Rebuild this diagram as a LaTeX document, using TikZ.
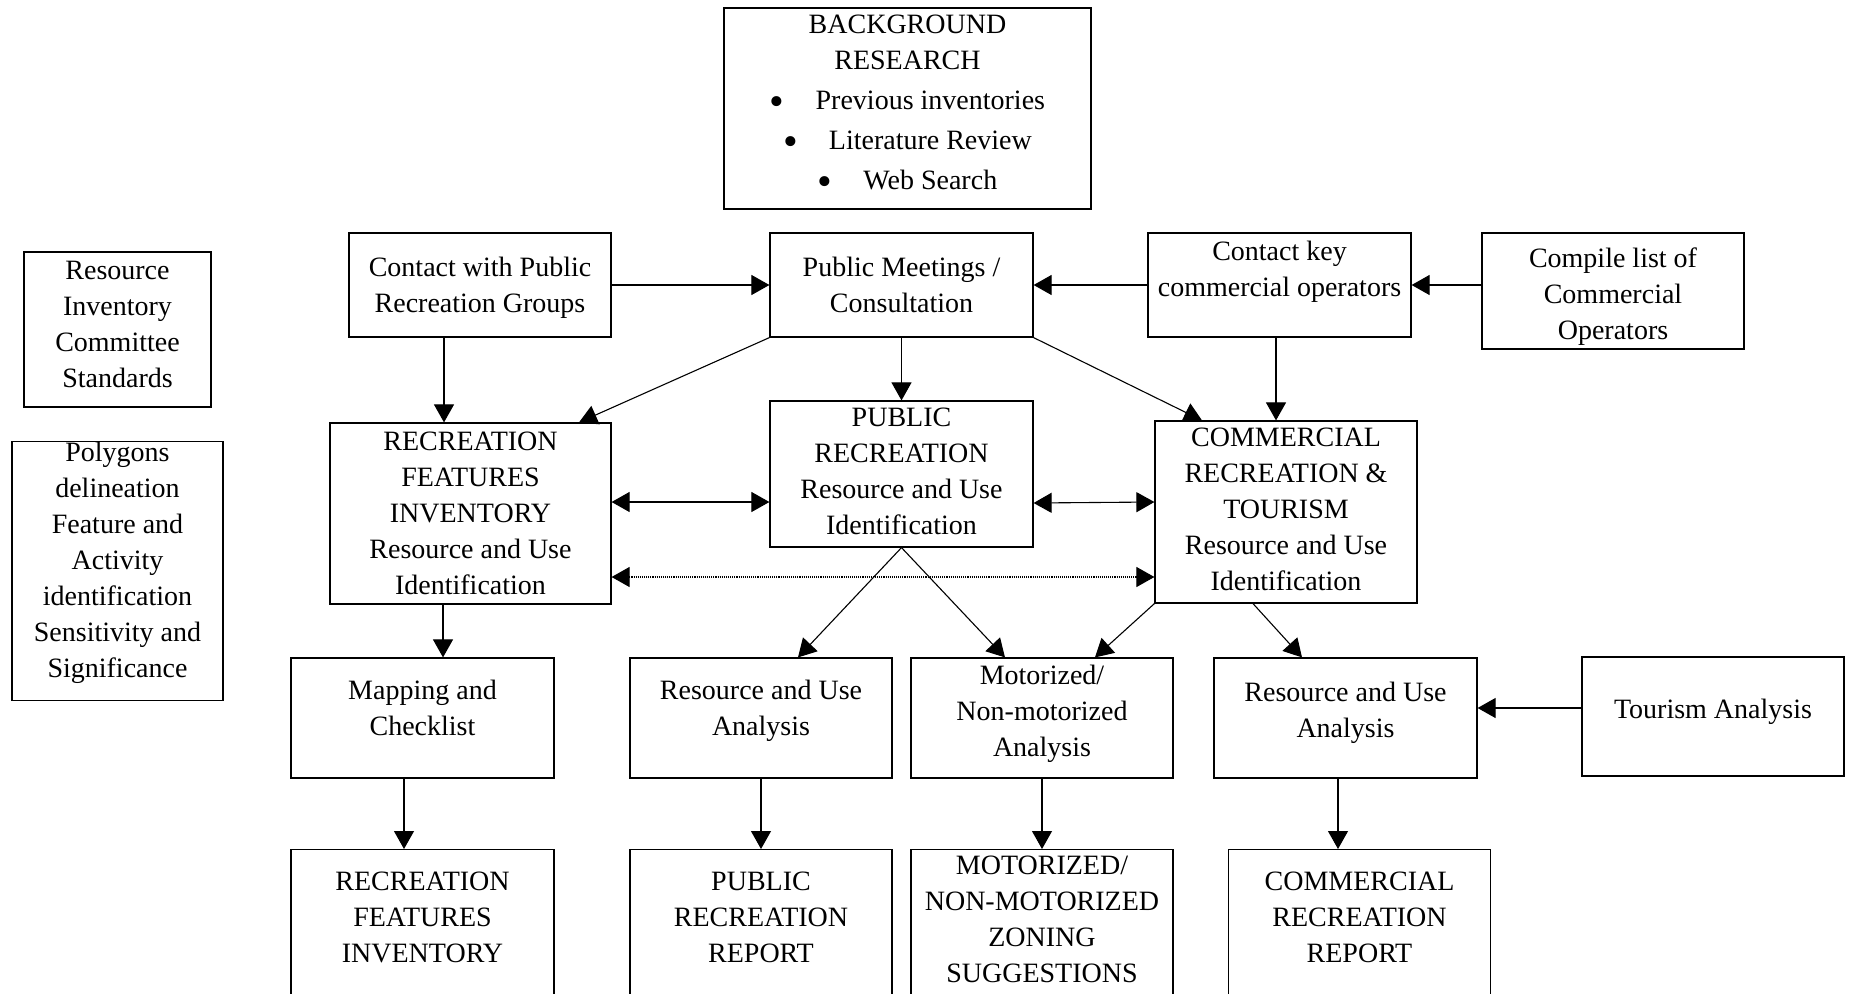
\documentclass[tikz,border=0pt]{standalone}
\usepackage{fontspec}
\setmainfont{Liberation Serif}
\usetikzlibrary{arrows.meta, calc}
\newcommand{\vpad}[1]{\rule[-#1pt]{0pt}{#1pt}}
\newcommand{\tpad}[1]{\rule{0pt}{#1pt}}
\newcommand{\blt}{\raisebox{-6pt}{\scalebox{1.5}{\textbullet}}\hspace{31pt}}

\begin{document}
\begin{tikzpicture}[x=1pt, y=-1pt,
    box/.style={draw, line width=1.2pt, align=center, inner xsep=2pt, inner ysep=0pt,
        font=\fontsize{28}{36}\selectfont,
        execute at end node=\vpad{6}},
    link/.style={line width=1.1pt},
    >={Triangle[length=18pt, width=20pt]}]

    % 1. Page frame (the bottom row runs off the page)
    \useasboundingbox (0,0) rectangle (1849,993);
    \clip (0,0) rectangle (1849,993);

    % 2. Top row
    \node[box, minimum width=367, minimum height=201] (bg) at (907.5,108.5)
        {BACKGROUND\\RESEARCH\\[4pt]
         \blt Previous inventories\\[4pt]
         \blt Literature Review\\[4pt]
         \blt Web Search\vpad{12}};

    \node[box, minimum width=262, minimum height=104] (cpub) at (480,285)
        {\tpad{24}Contact with Public\\Recreation Groups};
    \node[box, minimum width=263, minimum height=104] (pmeet) at (901.5,285)
        {\tpad{24}Public Meetings /\\Consultation};
    \node[box, minimum width=263, minimum height=104] (ckey) at (1279.5,285)
        {Contact key\\commercial operators\vpad{33}};
    \node[box, minimum width=262, minimum height=116] (clist) at (1613,291)
        {\tpad{30}Compile list of\\Commercial\\Operators};

    % 3. Side notes
    \node[box, minimum width=187, minimum height=155] (ric) at (117.5,329.5)
        {Resource\\Inventory\\Committee\\Standards\vpad{11}};
    \node[box, minimum width=211, minimum height=256] (poly) at (117.5,571)
        {Polygons\\delineation\\Feature and\\Activity\\identification\\Sensitivity and\\Significance\vpad{23}};

    % 4. Identification row
    \node[box, minimum width=281, minimum height=181] (rfi) at (470.5,513.5)
        {\tpad{24}RECREATION\\FEATURES\\INVENTORY\\Resource and Use\\Identification};
    \node[box, minimum width=263, minimum height=146] (pubrec) at (901.5,474)
        {PUBLIC\\RECREATION\\Resource and Use\\Identification};
    \node[box, minimum width=262, minimum height=182] (comrec) at (1286,512)
        {COMMERCIAL\\RECREATION \&\\TOURISM\\Resource and Use\\Identification};

    % 5. Analysis row
    \node[box, minimum width=263, minimum height=120] (mapck) at (422.5,718)
        {Mapping and\\Checklist\vpad{20}};
    \node[box, minimum width=262, minimum height=120] (puban) at (761,718)
        {Resource and Use\\Analysis\vpad{20}};
    \node[box, minimum width=262, minimum height=120] (motan) at (1042,718)
        {Motorized/\\Non-motorized\\Analysis\vpad{15}};
    \node[box, minimum width=263, minimum height=120] (coman) at (1345.5,718)
        {Resource and Use\\Analysis\vpad{17}};
    \node[box, minimum width=262, minimum height=119] (tour) at (1713,716.5)
        {Tourism Analysis\vpad{16}};

    % 6. Reports (cut by the page edge)
    \node[box, anchor=north, minimum width=263, inner ysep=22pt] (rfirep) at (422.5,849)
        {RECREATION\\FEATURES\\INVENTORY\vpad{40}};
    \node[box, anchor=north, minimum width=262, inner ysep=22pt] (pubrep) at (761,849)
        {PUBLIC\\RECREATION\\REPORT\vpad{40}};
    \node[box, anchor=north, minimum width=262, inner ysep=6pt] (motrep) at (1042,849)
        {MOTORIZED/\\NON-MOTORIZED\\ZONING\\SUGGESTIONS\vpad{40}};
    \node[box, anchor=north, minimum width=262, inner ysep=22pt] (comrep) at (1359.5,849)
        {COMMERCIAL\\RECREATION\\REPORT\vpad{40}};

    % 7. Connectors
    \draw[link, ->] (cpub.east) -- (pmeet.west);
    \draw[link, ->] (ckey.west) -- (pmeet.east);
    \draw[link, ->] (clist.west |- ckey.east) -- (ckey.east);

    \draw[link, ->] (cpub.south -| 444,0) -- (rfi.north -| 444,0);
    \draw[link, ->] (pmeet.south west) -- (rfi.north -| 579,0);
    \draw[link, ->] (pmeet.south) -- (pubrec.north);
    \draw[link, ->] (pmeet.south east) -- (comrec.north -| 1202,0);
    \draw[link, ->] (ckey.south -| 1276,0) -- (comrec.north -| 1276,0);

    \draw[link, <->] (rfi.east |- 0,502) -- (pubrec.west |- 0,502);
    \draw[link, <->] (pubrec.east |- 0,503) -- (comrec.west |- 0,502);
    \draw[link, <->, densely dotted] (rfi.east |- 0,577) -- (comrec.west |- 0,577);

    \draw[link, ->] (rfi.south -| 443,0) -- (mapck.north -| 443,0);
    \draw[link, ->] (pubrec.south) -- (puban.north -| 798,0);
    \draw[link, ->] (pubrec.south) -- (motan.north -| 1005,0);
    \draw[link, ->] (comrec.south west) -- (motan.north -| 1095,0);
    \draw[link, ->] (comrec.south -| 1253,0) -- (coman.north -| 1302,0);
    \draw[link, ->] (tour.west |- 0,708) -- (coman.east |- 0,708);

    \draw[link, ->] (mapck.south -| 404,0) -- (rfirep.north -| 404,0);
    \draw[link, ->] (puban.south) -- (pubrep.north);
    \draw[link, ->] (motan.south) -- (motrep.north);
    \draw[link, ->] (coman.south -| 1338,0) -- (comrep.north -| 1338,0);

\end{tikzpicture}
\end{document}
